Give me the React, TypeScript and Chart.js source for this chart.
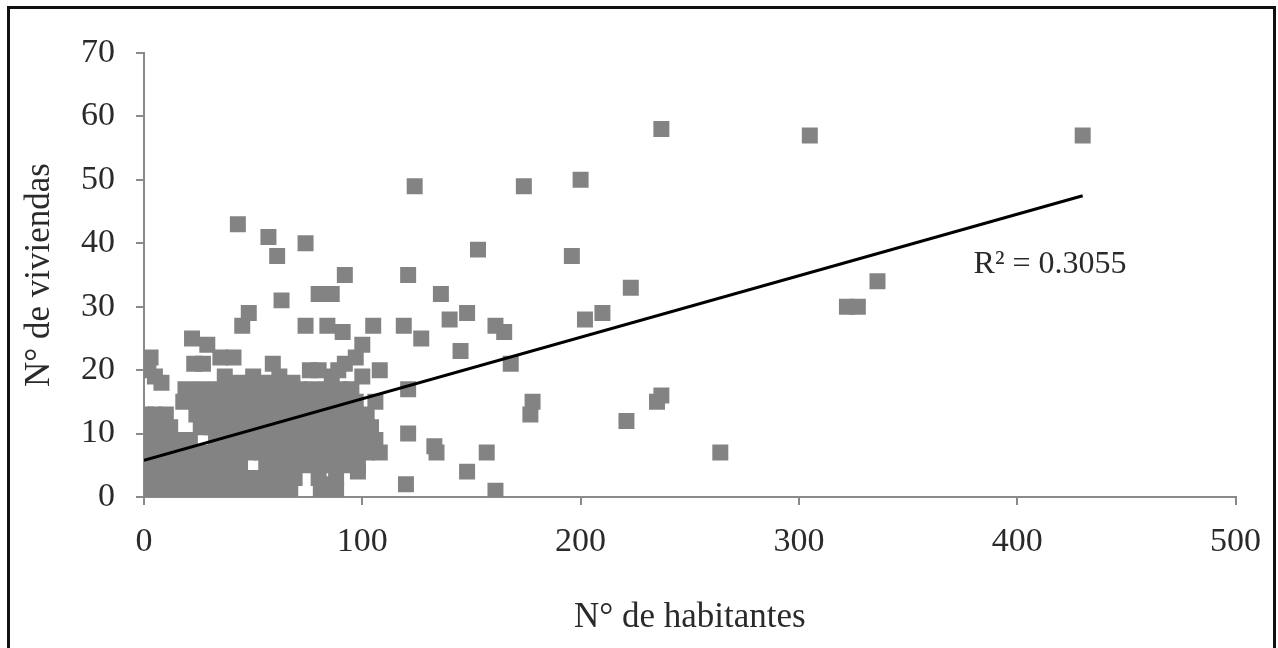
import React, { useEffect, useRef } from "react";
import { Chart, registerables } from "chart.js";

Chart.register(...registerables);

// N° de habitantes (x) and N° de viviendas (y)
const habitantes: number[] = [
  // dense cluster
  2, 7, 13, 19, 25, 31, 37, 43, 49, 55, 61, 67, 81, 86, 88,
  4, 16, 28, 40, 52, 64, 84,
  1, 8, 14, 21, 27, 34, 40, 46, 53, 59, 65, 69, 80, 88,
  98,
  3, 9, 15, 21, 27, 33, 39, 44, 56, 62, 68, 74, 80, 86, 92, 98,
  1, 6, 12, 18, 24, 30, 36, 42, 48, 54, 60, 66, 72, 78, 84, 90, 96, 102, 108,
  3, 9, 15, 21, 33, 39, 45, 51, 57, 63, 69, 75, 81, 87, 93, 99, 106,
  1, 6, 12, 26, 31, 37, 43, 49, 55, 61, 67, 73, 79, 85, 91, 97, 104,
  1, 5, 10, 24, 30, 36, 42, 48, 54, 60, 66, 72, 78, 84, 90, 96, 102,
  18, 24, 30, 36, 43, 49, 55, 61, 67, 73, 79, 85, 91, 97, 106,
  19, 26, 33, 40, 46, 52, 58, 64, 71, 77, 84, 90, 95,
  8, 44, 56, 68,
  5, 37, 50, 62, 86, 100,
  2, 76, 80, 89, 108,
  23, 27, 59, 92,
  3, 35, 41, 97,
  29, 100,
  22,
  91,
  45, 74, 84, 105,
  48,
  63,
  80, 86,
  92,
  61,
  74,
  57,
  43,
  // middle range
  121, 124, 136, 140, 148, 119, 127, 161, 165, 145, 168, 121, 121, 133, 134,
  157, 148, 120, 161,
  // sparse outliers
  153, 174, 200, 196, 237, 223, 202, 210, 178, 177, 237, 235, 221, 264,
  305, 430, 336, 322, 327,
];

const viviendas: number[] = [
  1, 1, 1, 1, 1, 1, 1, 1, 1, 1, 1, 1, 1, 1, 1,
  2, 2, 2, 2, 2, 2, 2,
  3, 3, 3, 3, 3, 3, 3, 3, 3, 3, 3, 3, 3, 3,
  4,
  5, 5, 5, 5, 5, 5, 5, 5, 5, 5, 5, 5, 5, 5, 5, 5,
  7, 7, 7, 7, 7, 7, 7, 7, 7, 7, 7, 7, 7, 7, 7, 7, 7, 7, 7,
  9, 9, 9, 9, 9, 9, 9, 9, 9, 9, 9, 9, 9, 9, 9, 9, 9,
  11, 11, 11, 11, 11, 11, 11, 11, 11, 11, 11, 11, 11, 11, 11, 11, 11,
  13, 13, 13, 13, 13, 13, 13, 13, 13, 13, 13, 13, 13, 13, 13, 13, 13,
  15, 15, 15, 15, 15, 15, 15, 15, 15, 15, 15, 15, 15, 15, 15,
  17, 17, 17, 17, 17, 17, 17, 17, 17, 17, 17, 17, 17,
  18, 18, 18, 18,
  19, 19, 19, 19, 19, 19,
  20, 20, 20, 20, 20,
  21, 21, 21, 21,
  22, 22, 22, 22,
  24, 24,
  25,
  26,
  27, 27, 27, 27,
  29,
  31,
  32, 32,
  35,
  38,
  40,
  41,
  43,
  35, 49, 32, 28, 29, 27, 25, 27, 26, 23, 21, 17, 10, 8, 7,
  7, 4, 2, 1,
  39, 49, 50, 38, 58, 33, 28, 29, 15, 13, 16, 15, 12, 7,
  57, 57, 34, 30, 30,
];

// linear trend line end points and its label
const trendX: number[] = [0, 430];
const trendY: number[] = [5.8, 47.5];
const r2Label = "R² = 0.3055";
const r2Pos = { x: 380, y: 36.6 };

const xTicks = { min: 0, max: 500, step: 100 };
const yTicks = { min: 0, max: 70, step: 10 };

export default function App() {
  const ref = useRef<HTMLCanvasElement | null>(null);

  useEffect(() => {
    if (!ref.current) return;
    const points = habitantes.map((h, i) => ({ x: h, y: viviendas[i] }));
    const trend = trendX.map((x, i) => ({ x, y: trendY[i] }));
    const axisColor = "#8a8a8a";
    const textColor = "#2a2a2a";
    const family = "'Liberation Serif', 'DejaVu Serif', serif";

    const r2Plugin = {
      id: "r2label",
      afterDatasetsDraw(chart: any) {
        const { ctx, scales } = chart;
        const px = scales.x.getPixelForValue(r2Pos.x);
        const py = scales.y.getPixelForValue(r2Pos.y);
        ctx.save();
        ctx.font = `32px ${family}`;
        ctx.fillStyle = textColor;
        ctx.textAlign = "left";
        ctx.textBaseline = "middle";
        ctx.fillText(r2Label, px, py);
        ctx.restore();
      },
    };

    const chart = new Chart(ref.current, {
      type: "scatter",
      data: {
        datasets: [
          {
            type: "scatter",
            data: trend,
            showLine: true,
            borderColor: "#000000",
            borderWidth: 3,
            pointRadius: 0,
            order: 0,
          } as any,
          {
            type: "scatter",
            data: points,
            pointStyle: "rect",
            pointRadius: 11.3,
            pointHoverRadius: 11.3,
            backgroundColor: "#838383",
            borderWidth: 0,
            order: 1,
          } as any,
        ],
      },
      options: {
        animation: false,
        responsive: false,
        maintainAspectRatio: false,
        layout: { padding: { top: 53, right: 37, left: 0, bottom: 0 } },
        plugins: { legend: { display: false }, tooltip: { enabled: false } },
        scales: {
          x: {
            type: "linear",
            min: xTicks.min,
            max: xTicks.max,
            afterFit: (s: any) => {
              s.height = 151;
            },
            ticks: {
              stepSize: xTicks.step,
              padding: 17,
              color: textColor,
              font: { family, size: 34 },
            },
            grid: {
              drawOnChartArea: false,
              drawTicks: true,
              tickLength: 8,
              color: axisColor,
              lineWidth: 2,
            },
            border: { display: true, color: axisColor, width: 2 },
            title: {
              display: true,
              text: "N° de habitantes",
              color: textColor,
              font: { family, size: 35 },
              padding: { top: 0, bottom: 9 },
            },
          },
          y: {
            type: "linear",
            min: yTicks.min,
            max: yTicks.max,
            afterFit: (s: any) => {
              s.width = 144;
            },
            ticks: {
              stepSize: yTicks.step,
              padding: 21,
              color: textColor,
              font: { family, size: 34 },
            },
            grid: {
              drawOnChartArea: false,
              drawTicks: true,
              tickLength: 8,
              color: axisColor,
              lineWidth: 2,
            },
            border: { display: true, color: axisColor, width: 2 },
            title: {
              display: true,
              text: "N° de viviendas",
              color: textColor,
              font: { family, size: 35 },
              padding: { top: 19, bottom: 0 },
            },
          },
        },
      } as any,
      plugins: [r2Plugin],
    });
    return () => chart.destroy();
  }, []);

  return (
    <div style={{ position: "fixed", left: 0, top: 0, width: 1278, height: 648, overflow: "hidden", background: "#ffffff" }}>
      <div
        style={{
          position: "absolute",
          left: 7,
          top: 6,
          width: 1269,
          height: 700,
          boxSizing: "border-box",
          border: "3px solid #111111",
        }}
      />
      <canvas
        ref={ref}
        width={1278}
        height={648}
        style={{ position: "absolute", left: 0, top: 0, width: 1278, height: 648 }}
      />
    </div>
  );
}
